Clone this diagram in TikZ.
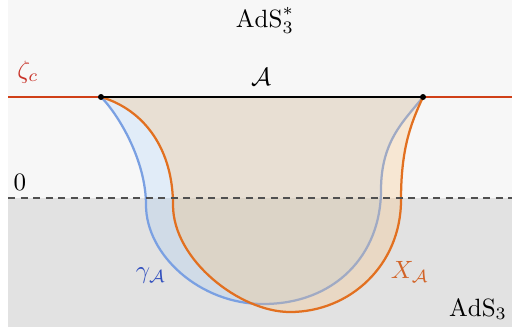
\documentclass[tikz,border=0pt]{standalone}
\usepackage{amsmath}
\definecolor{bgtop}{RGB}{247,247,247}
\definecolor{bgbot}{RGB}{226,226,226}
\definecolor{bluefill}{RGB}{140,195,254}
\definecolor{blueline}{RGB}{122,160,226}
\definecolor{orangefill}{RGB}{250,196,128}
\definecolor{orangeline}{RGB}{226,112,32}
\definecolor{redline}{RGB}{208,64,24}
\definecolor{redlabel}{RGB}{200,50,40}
\definecolor{bluelabel}{RGB}{50,80,190}
\definecolor{orangelabel}{RGB}{210,100,40}
\definecolor{dashgrey}{RGB}{80,80,80}
\begin{document}
\begin{tikzpicture}[x=0.4pt,y=-0.4pt,
  curve/.style={line width=0.9pt},
  lbl/.style={inner sep=0pt},
  endpt/.style={circle,fill=black,inner sep=0pt,minimum size=2.4pt}]
\useasboundingbox (0,0) rectangle (512,334);
\fill[bgtop] (8,0) rectangle (512,198);
\fill[bgbot] (8,198) rectangle (512,327);
\coordinate (L) at (101,97);
\coordinate (R) at (423,97);
\coordinate (zl) at (8,97);
\coordinate (zr) at (512,97);
\coordinate (dl) at (8,198);
\coordinate (dr) at (512,198);
% gamma_A region
\path[fill=bluefill,fill opacity=0.2] (L) .. controls (118,114) and (146,160) .. (146,205)
  .. controls (146,255) and (200,304) .. (263,304)
  .. controls (335,304) and (381,255) .. (381,190)
  .. controls (381,140) and (405,120) .. (R) -- cycle;
\draw[curve,blueline] (L) .. controls (118,114) and (146,160) .. (146,205)
  .. controls (146,255) and (200,304) .. (263,304)
  .. controls (335,304) and (381,255) .. (381,190)
  .. controls (381,140) and (405,120) .. (R);
% X_A region
\path[fill=orangefill,fill opacity=0.3] (L) .. controls (145,110) and (173,150) .. (173,205)
  .. controls (173,260) and (240,312) .. (290,312)
  .. controls (350,312) and (401,265) .. (401,200)
  .. controls (401,150) and (410,125) .. (R) -- cycle;
\draw[curve,orangeline] (L) .. controls (145,110) and (173,150) .. (173,205)
  .. controls (173,260) and (240,312) .. (290,312)
  .. controls (350,312) and (401,265) .. (401,200)
  .. controls (401,150) and (410,125) .. (R);
% lines
\draw[redline,line width=0.8pt] (zl) -- (L);
\draw[redline,line width=0.8pt] (R) -- (zr);
\draw[dashgrey,line width=0.9pt,dash pattern=on 2.8pt off 2.2pt] (dl) -- (dr);
\draw[black,line width=1pt] (L) -- (R);
\node[endpt] (Ldot) at (L) {};
\node[endpt] (Rdot) at (R) {};
% labels
\node[lbl,anchor=base] (adsstar) at (265,27) {$\mathrm{AdS}_3^*$};
\node[lbl,anchor=base] (ads) at (478,316) {$\mathrm{AdS}_3$};
\node[lbl,anchor=base,text=redlabel] (zc) at (28,78) {$\zeta_c$};
\node[lbl] (A) at (261,77) {$\mathcal{A}$};
\node[lbl,anchor=base] (zero) at (20,190) {$0$};
\node[lbl,text=bluelabel] (gam) at (151,276) {$\gamma_{\mathcal{A}}$};
\node[lbl,text=orangelabel] (XA) at (410,272) {$X_{\mathcal{A}}$};
\end{tikzpicture}
\end{document}
